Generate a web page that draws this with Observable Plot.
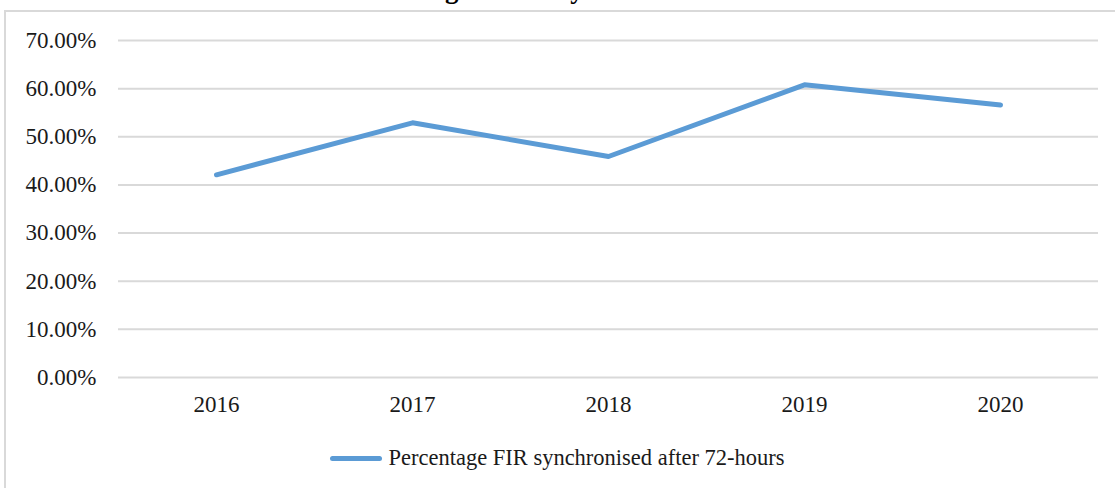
<!DOCTYPE html>
<html>
<head>
<meta charset="utf-8">
<script src="https://cdn.jsdelivr.net/npm/d3@7"></script>
<script src="https://cdn.jsdelivr.net/npm/@observablehq/plot@0.6"></script>
<style>
  html, body { margin: 0; padding: 0; background: #fff; }
  #wrap { position: relative; width: 1115px; height: 488px; overflow: hidden; font-family: "Liberation Serif", "Times New Roman", serif; }
  #box { position: absolute; left: 4px; top: 10px; width: 1130px; height: 500px; border: 2px solid #d9d9d9; box-sizing: border-box; }
  #title { position: absolute; left: 0; width: 1120px; top: -24px; text-align: center; font-weight: bold; font-size: 27px; line-height: 27px; color: #000; white-space: nowrap; }
  #chart { position: absolute; left: 0; top: 0; }
  #legend { position: absolute; left: 0; width: 1115px; top: 445px; display: flex; justify-content: center; align-items: center; font-size: 22.5px; color: #1a1a1a; }
  #legend .sw { width: 52px; height: 5px; background: #5b9bd5; border-radius: 3px; margin-right: 6px; }
</style>
</head>
<body>
<div id="wrap">
  <div id="box"></div>
  <div id="title">Chart 3: Percentage of FIR synchronised after 72-hours</div>
  <div id="chart"></div>
  <div id="legend"><span class="sw"></span><span>Percentage FIR synchronised after 72-hours</span></div>
</div>
<script>
const years = ["2016", "2017", "2018", "2019", "2020"];
const values = [0.421, 0.529, 0.459, 0.608, 0.566];
const yTicks = [0, 0.1, 0.2, 0.3, 0.4, 0.5, 0.6, 0.7];
const seriesName = "Percentage FIR synchronised after 72-hours";

const data = years.map((y, i) => ({year: y, value: values[i]}));

const plot = Plot.plot({
  width: 1115,
  height: 430,
  marginLeft: 118,
  marginRight: 17,
  marginTop: 40,
  marginBottom: 53,
  style: {fontFamily: "'Liberation Serif', 'Times New Roman', serif", fontSize: "23px", color: "#1a1a1a", background: "transparent"},
  x: {type: "band", domain: years, padding: 0, label: null},
  y: {domain: [0, 0.7], label: null},
  marks: [
    Plot.ruleY(yTicks, {stroke: "#d9d9d9", strokeWidth: 2}),
    Plot.axisY({ticks: yTicks, tickFormat: d3.format(".2%"), tickSize: 0, tickPadding: 22, label: null, fontSize: 23}),
    Plot.axisX({tickSize: 0, tickPadding: 18, label: null, fontSize: 23}),
    Plot.line(data, {x: "year", y: "value", stroke: "#5b9bd5", strokeWidth: 5, strokeLinecap: "round", strokeLinejoin: "round"})
  ]
});
document.getElementById("chart").appendChild(plot);
</script>
</body>
</html>
